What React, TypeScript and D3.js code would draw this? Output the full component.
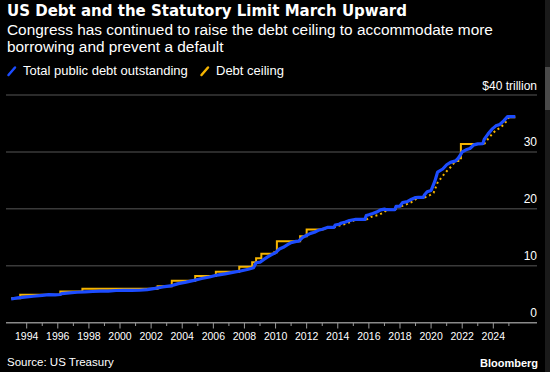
import React from "react";
import * as d3 from "d3";

const W = 550;
const H = 372;

// Total public debt outstanding ($ trillions)
const debtDates = ["1993-01","1993-06","1994-01","1994-06","1995-01","1995-06","1995-11","1996-03","1996-04","1996-10","1997-04","1997-10","1998-04","1998-10","1999-04","1999-10","2000-04","2000-10","2001-04","2001-10","2002-04","2002-10","2003-04","2003-10","2004-04","2004-10","2005-04","2005-10","2006-04","2006-10","2007-04","2007-10","2008-04","2008-08","2008-10","2009-01","2009-04","2009-07","2009-10","2010-01","2010-04","2010-07","2010-10","2011-01","2011-05","2011-07","2011-08","2011-10","2012-01","2012-04","2012-07","2012-10","2013-01","2013-05","2013-10","2013-11","2014-02","2014-04","2014-07","2014-10","2015-01","2015-03","2015-10","2015-11","2016-01","2016-04","2016-07","2016-10","2017-01","2017-03","2017-09","2017-10","2018-01","2018-03","2018-07","2018-10","2019-01","2019-03","2019-07","2019-08","2019-10","2020-01","2020-04","2020-06","2020-10","2021-01","2021-04","2021-08","2021-10","2021-12","2022-01","2022-04","2022-07","2022-10","2023-01","2023-05","2023-06","2023-09","2023-12","2024-03","2024-06","2024-09","2024-12","2025-06"];
const debtValues = [4.17,4.35,4.54,4.65,4.80,4.93,4.90,4.95,5.10,5.23,5.35,5.41,5.48,5.53,5.56,5.66,5.70,5.67,5.70,5.82,6.02,6.28,6.46,6.87,7.13,7.43,7.77,8.03,8.37,8.58,8.85,9.08,9.40,9.64,10.53,10.63,11.13,11.57,11.95,12.31,12.95,13.24,13.66,14.05,14.29,14.34,14.58,14.99,15.36,15.69,15.89,16.23,16.43,16.74,16.74,17.16,17.29,17.51,17.69,17.94,18.08,18.15,18.15,18.83,18.95,19.18,19.43,19.81,19.94,19.85,19.84,20.44,20.49,21.09,21.3,21.7,21.98,22.0,22.02,22.48,23.0,23.22,24.9,26.45,27.0,27.75,28.17,28.43,28.9,29.6,30.0,30.37,30.6,31.24,31.42,31.46,32.2,33.17,34.0,34.58,34.83,35.46,36.2,36.2];

// Statutory debt limit (null = suspended)
const ceilDates = ["1993-01","1993-08","1996-03","1997-08","2002-06","2003-05","2004-11","2006-03","2007-09","2008-07","2008-10","2009-02","2009-12","2010-02","2011-08","2012-01","2013-02","2013-03","2013-05","2013-10","2013-11","2015-03","2015-11","2015-12","2017-03","2017-09","2017-10","2017-12","2018-02","2018-03","2019-03","2019-08","2019-09","2021-08","2021-10","2021-12","2023-06","2023-07","2025-01","2025-06"];
const ceilValues: (number | null)[] = [4.3,4.9,5.5,5.95,6.4,7.384,8.184,8.965,9.815,10.615,11.315,12.104,12.394,14.294,15.194,16.394,16.394,null,16.699,16.699,null,18.113,18.113,null,19.809,19.809,null,20.456,20.456,null,21.988,21.988,null,28.401,28.881,31.381,31.381,null,36.1,36.1];

// Debt subject to limit while the ceiling was suspended (dotted)
const suspDates = ["2013-02","2013-05","2013-06","2013-10","2014-01","2014-06","2014-11","2015-03","2015-04","2015-11","2016-03","2016-08","2016-12","2017-03","2017-04","2017-09","2017-12","2018-01","2018-02","2018-06","2018-10","2019-03","2019-04","2019-08","2019-12","2020-03","2020-06","2020-10","2021-01","2021-04","2021-08","2021-09","2023-06","2023-09","2023-12","2024-03","2024-06","2024-09","2024-12","2025-01"];
const suspValues: (number | null)[] = [16.394,16.699,null,16.699,17.0,17.3,17.7,18.113,null,18.113,18.6,18.9,19.3,19.809,null,19.809,20.456,null,20.456,20.8,21.2,21.988,null,21.988,22.4,22.8,24.6,25.8,26.6,27.3,28.401,null,31.381,32.3,33.1,33.8,34.2,34.8,35.6,36.1];

const yTicks = [0, 10, 20, 30, 40];
const xYears = d3.range(1994, 2026);

const BLUE = "#1c4cff";
const YELLOW = "#f5b400";

const parse = d3.timeParse("%Y-%m");

export default function App() {
  const x = d3.scaleTime()
    .domain([new Date(1994, 0, 1), new Date(2024, 0, 1)])
    .range([26.7, 493.3]);
  const y = d3.scaleLinear().domain([0, 40]).range([322.7, 95]);

  const debt = debtDates.map((d, i) => ({ t: parse(d) as Date, v: debtValues[i] }));
  const ceil = ceilDates.map((d, i) => ({ t: parse(d) as Date, v: ceilValues[i] }));
  const susp = suspDates.map((d, i) => ({ t: parse(d) as Date, v: suspValues[i] }));

  const lineDebt = d3.line<{ t: Date; v: number }>()
    .x((d) => x(d.t))
    .y((d) => y(d.v))
    .curve(d3.curveLinear);
  const lineCeil = d3.line<{ t: Date; v: number | null }>()
    .defined((d) => d.v != null)
    .x((d) => x(d.t))
    .y((d) => y(d.v as number))
    .curve(d3.curveStepAfter);
  const lineSusp = d3.line<{ t: Date; v: number | null }>()
    .defined((d) => d.v != null)
    .x((d) => x(d.t))
    .y((d) => y(d.v as number));

  const font = "'Liberation Sans', Arial, sans-serif";

  return (
    <svg width={W} height={H} style={{ position: "absolute", left: 0, top: 0, background: "#000" }}>
      <rect x={0} y={0} width={W} height={H} fill="#000" />
      {/* Titles */}
      <text x={7} y={16} fill="#fff" fontFamily="'DejaVu Sans', sans-serif" fontWeight="bold" fontSize={15}>
        US Debt and the Statutory Limit March Upward
      </text>
      <text x={7} y={35} fill="#fff" fontFamily={font} fontSize={15.4}>
        Congress has continued to raise the debt ceiling to accommodate more
      </text>
      <text x={7} y={52} fill="#fff" fontFamily={font} fontSize={15.4}>
        borrowing and prevent a default
      </text>
      {/* Legend */}
      <line x1={8.5} y1={75} x2={15} y2={67.5} stroke={BLUE} strokeWidth={2.5} strokeLinecap="round" />
      <text x={23} y={75} fill="#fff" fontFamily={font} fontSize={13}>Total public debt outstanding</text>
      <line x1={201.5} y1={75} x2={208} y2={67.5} stroke={YELLOW} strokeWidth={2.5} strokeLinecap="round" />
      <text x={216} y={75} fill="#fff" fontFamily={font} fontSize={13}>Debt ceiling</text>

      {/* Gridlines & y labels */}
      {yTicks.map((t) => (
        <g key={t}>
          {t > 0 && <line x1={6} x2={537} y1={y(t)} y2={y(t)} stroke="#3a3a3a" strokeWidth={1.5} />}
          <text x={537} y={y(t) - 5.5} fill="#fff" fontFamily={font} fontSize={12} textAnchor="end">
            {t === 40 ? "$40 trillion" : String(t)}
          </text>
        </g>
      ))}

      {/* X axis */}
      <line x1={6} x2={537} y1={322.7} y2={322.7} stroke="#8a8a8a" strokeWidth={1.5} />
      {xYears.map((yr) => {
        const xp = x(new Date(yr, 0, 1));
        const major = yr % 2 === 0;
        return (
          <g key={yr}>
            <line x1={xp} x2={xp} y1={322.7} y2={major ? 328.5 : 326} stroke="#9a9a9a" strokeWidth={1} />
            {major && (
              <text x={xp} y={340} fill="#fff" fontFamily={font} fontSize={10.5} textAnchor="middle">
                {yr}
              </text>
            )}
          </g>
        );
      })}

      {/* Series */}
      <path d={lineCeil(ceil) || ""} fill="none" stroke={YELLOW} strokeWidth={2} />
      <path d={lineSusp(susp) || ""} fill="none" stroke={YELLOW} strokeWidth={2} strokeDasharray="2,3" />
      <path d={lineDebt(debt) || ""} fill="none" stroke={BLUE} strokeWidth={3.2} strokeLinejoin="round" />

      {/* Footer */}
      <text x={7} y={366} fill="#fff" fontFamily={font} fontSize={11.5}>Source: US Treasury</text>
      <text x={538} y={367} fill="#fff" fontFamily={font} fontSize={11} fontWeight="bold" textAnchor="end">Bloomberg</text>

      {/* Scrollbar strip */}
      <rect x={545} y={0} width={5} height={H} fill="#1a1a1a" />
      <rect x={545} y={67} width={5} height={43} fill="#4a4a4a" />
    </svg>
  );
}
